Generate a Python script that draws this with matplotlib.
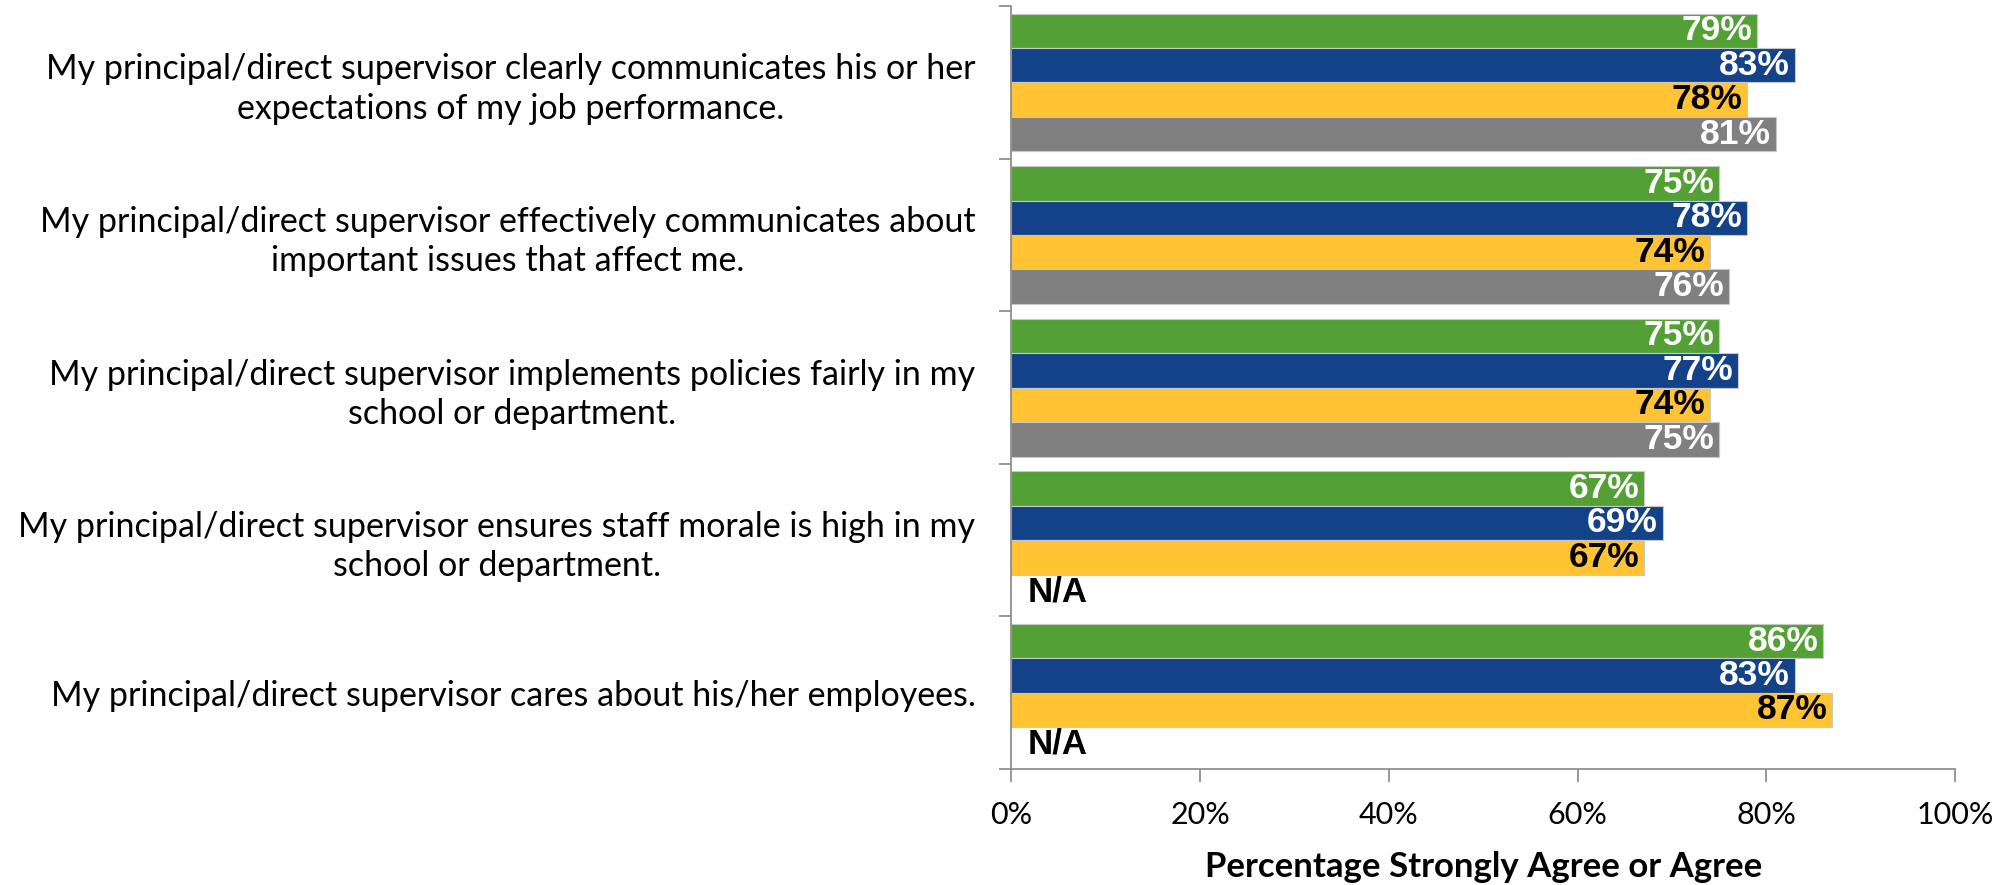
import matplotlib.pyplot as plt
import numpy as np

categories = [
    "My principal/direct supervisor clearly communicates his or her\nexpectations of my job performance.",
    "My principal/direct supervisor effectively communicates about\nimportant issues that affect me.",
    "My principal/direct supervisor implements policies fairly in my\nschool or department.",
    "My principal/direct supervisor ensures staff morale is high in my\nschool or department.",
    "My principal/direct supervisor cares about his/her employees.",
]
# four survey groups, None = question not asked
green = [79, 75, 75, 67, 86]
blue = [83, 78, 77, 69, 83]
yellow = [78, 74, 74, 67, 87]
gray = [81, 76, 75, None, None]
x_ticks = [0, 20, 40, 60, 80, 100]
x_title = "Percentage Strongly Agree or Agree"

series = [
    (green, "#53a035", "white"),
    (blue, "#134289", "white"),
    (yellow, "#ffc333", "black"),
    (gray, "#808080", "white"),
]

label_font = "Lato"
value_font = ["Liberation Sans", "DejaVu Sans"]

fig = plt.figure(figsize=(19.99, 8.85), dpi=100)
ax = fig.add_axes([0.506, 0.131, 0.472, 0.862])

h = 0.2257
y = np.arange(len(categories))
for k, (vals, color, txt_color) in enumerate(series):
    offs = (k - 1.5) * h
    for i, v in enumerate(vals):
        yy = y[i] + offs
        if v is None:
            ax.text(1.7, yy, "N/A", ha="left", va="center", color="black",
                    fontsize=25, fontweight="bold", family=value_font)
            continue
        ax.barh(yy, v, height=h, color=color, edgecolor="#c8c8c8", linewidth=0.8)
        ax.text(v - 0.5, yy, f"{v}%", ha="right", va="center", color=txt_color,
                fontsize=25.5, fontweight="bold", family=value_font)

ax.set_xlim(0, 100)
ax.set_ylim(len(categories) - 0.5, -0.5)

ax.set_xticks(x_ticks)
ax.set_xticklabels([f"{t}%" for t in x_ticks], fontsize=22, family=label_font)
ax.tick_params(axis="x", direction="out", length=9, width=1.2, color="#868686", pad=14)

ax.set_yticks(np.arange(-0.5, len(categories), 1.0))
ax.set_yticklabels([])
ax.tick_params(axis="y", which="major", direction="out", length=9, width=1.2, color="#868686")
ax.set_yticks(y, minor=True)
ax.set_yticklabels(categories, minor=True, fontsize=24.5, family=label_font,
                   ha="right", multialignment="center", linespacing=1.27)
ax.tick_params(axis="y", which="minor", length=0, pad=26)

for side in ["top", "right"]:
    ax.spines[side].set_visible(False)
for side in ["left", "bottom"]:
    ax.spines[side].set_color("#868686")
    ax.spines[side].set_linewidth(1.2)

ax.set_xlabel(x_title, fontsize=25, fontweight="bold", family=label_font, labelpad=16)

fig.savefig("out.png", dpi=100)
